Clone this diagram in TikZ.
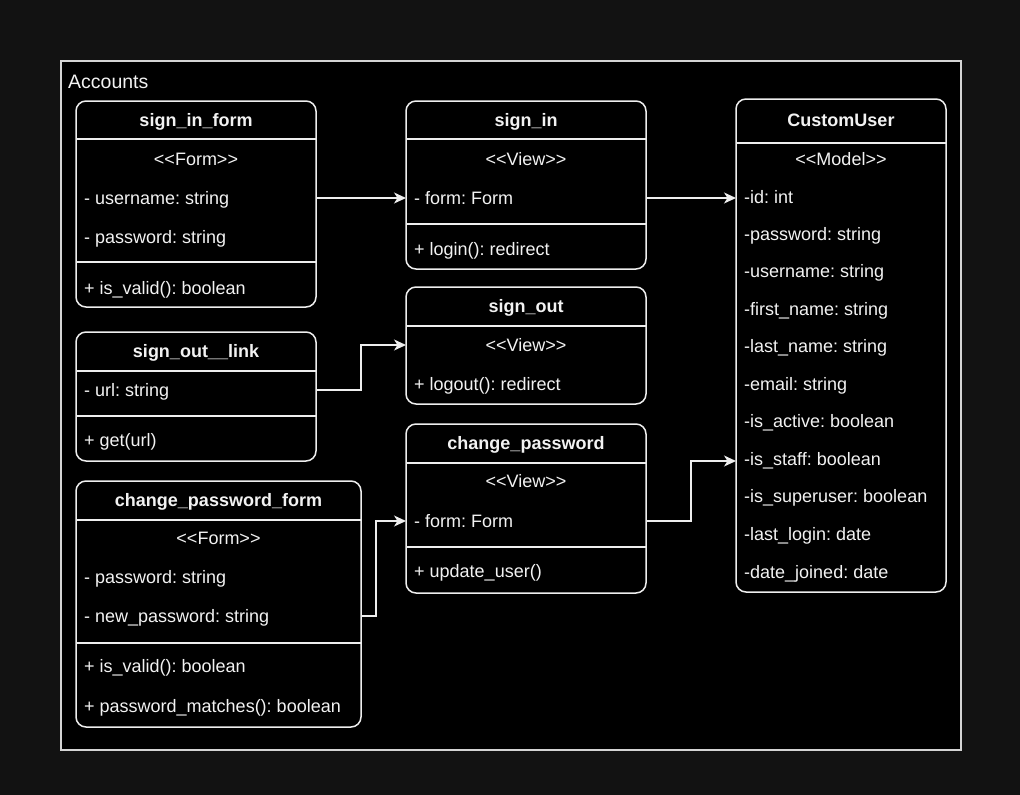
\documentclass[tikz,border=0pt]{standalone}
\usepackage{fontspec}
\setmainfont{Liberation Sans}
\usetikzlibrary{arrows.meta}
\definecolor{pagebg}{HTML}{121212}
\definecolor{edgecol}{HTML}{EEEEEE}
\definecolor{framecol}{HTML}{D4D4D4}
\definecolor{txtcol}{HTML}{F2F2F2}
\newcommand{\ltlt}{<\kern0pt<}
\newcommand{\gtgt}{>\kern0pt>}
\frenchspacing
\begin{document}
\begin{tikzpicture}[x=1pt,y=-1pt,
  umlbox/.style={draw=edgecol, line width=1.5pt, rounded corners=10pt, anchor=north west,
    inner sep=0pt, outer sep=0pt, fill=black},
  sepline/.style={draw=edgecol, line width=1.5pt},
  ttl/.style={font=\fontsize{18}{21}\selectfont\bfseries\frenchspacing, text=txtcol, inner sep=0pt,
    text height=12.9pt, text depth=0pt},
  attr/.style={font=\fontsize{18}{21}\selectfont\frenchspacing, text=txtcol, anchor=west, inner sep=0pt,
    text height=12.9pt, text depth=0pt},
  stereo/.style={attr, anchor=center},
  conn/.style={draw=edgecol, line width=1.5pt, -{Stealth[length=12pt,width=11pt,inset=3.5pt]}}
]
\useasboundingbox (0,0) rectangle (1020,795);
\fill[pagebg] (0,0) rectangle (1020,795);

% container
\node[draw=framecol, line width=1.5pt, fill=black, anchor=north west, inner sep=0pt, outer sep=0pt,
  minimum width=900pt, minimum height=689pt] (accounts) at (61,61) {};
\node[font=\fontsize{19.5}{22}\selectfont, text=txtcol, anchor=west, inner sep=0pt,
  text height=14pt, text depth=0pt] (accounts-t) at (68,81) {Accounts};

% sign_in_form
\node[umlbox, minimum width=240pt, minimum height=206pt] (sif) at (76,101) {};
\draw[sepline] (sif.west |- 0,139) -- (sif.east |- 0,139);
\draw[sepline] (sif.west |- 0,262) -- (sif.east |- 0,262);
\node[ttl] (sif-t) at (196,120) {sign\_in\_form};
\node[stereo] (sif-st) at (196,159) {\ltlt Form\gtgt};
\node[attr] (sif-user) at (84,198) {- username: string};
\node[attr] (sif-pw) at (84,237) {- password: string};
\node[attr] (sif-valid) at (84,288) {+ is\_valid(): boolean};

% sign_in
\node[umlbox, minimum width=240pt, minimum height=168pt] (si) at (406,101) {};
\draw[sepline] (si.west |- 0,139) -- (si.east |- 0,139);
\draw[sepline] (si.west |- 0,224) -- (si.east |- 0,224);
\node[ttl] (si-t) at (526,120) {sign\_in};
\node[stereo] (si-st) at (526,159) {\ltlt View\gtgt};
\node[attr] (si-form) at (414,198) {- form: Form};
\node[attr] (si-login) at (414,249) {+ login(): redirect};

% CustomUser
\node[umlbox, minimum width=210pt, minimum height=493pt] (cu) at (736,99) {};
\draw[sepline] (cu.west |- 0,143) -- (cu.east |- 0,143);
\node[ttl] (cu-t) at (841,120) {CustomUser};
\node[stereo] (cu-st) at (841,159) {\ltlt Model\gtgt};
\node[attr] (cu-id) at (744,197) {-id: int};
\node[attr] (cu-pw) at (744,234) {-password: string};
\node[attr] (cu-user) at (744,271) {-username: string};
\node[attr] (cu-first) at (744,309) {-first\_name: string};
\node[attr] (cu-last) at (744,346) {-last\_name: string};
\node[attr] (cu-email) at (744,384) {-email: string};
\node[attr] (cu-active) at (744,421) {-is\_active: boolean};
\node[attr] (cu-staff) at (744,459) {-is\_staff: boolean};
\node[attr] (cu-super) at (744,496) {-is\_superuser: boolean};
\node[attr] (cu-login) at (744,534) {-last\_login: date};
\node[attr] (cu-joined) at (744,572) {-date\_joined: date};

% sign_out__link
\node[umlbox, minimum width=240pt, minimum height=129pt] (sol) at (76,332) {};
\draw[sepline] (sol.west |- 0,371) -- (sol.east |- 0,371);
\draw[sepline] (sol.west |- 0,416) -- (sol.east |- 0,416);
\node[ttl] (sol-t) at (196,351) {sign\_out\_\_link};
\node[attr] (sol-url) at (84,390) {- url: string};
\node[attr] (sol-get) at (84,440) {+ get(url)};

% sign_out
\node[umlbox, minimum width=240pt, minimum height=117pt] (so) at (406,287) {};
\draw[sepline] (so.west |- 0,326) -- (so.east |- 0,326);
\node[ttl] (so-t) at (526,306) {sign\_out};
\node[stereo] (so-st) at (526,345) {\ltlt View\gtgt};
\node[attr] (so-logout) at (414,384) {+ logout(): redirect};

% change_password
\node[umlbox, minimum width=240pt, minimum height=169pt] (cp) at (406,424) {};
\draw[sepline] (cp.west |- 0,463) -- (cp.east |- 0,463);
\draw[sepline] (cp.west |- 0,547) -- (cp.east |- 0,547);
\node[ttl] (cp-t) at (526,443) {change\_password};
\node[stereo] (cp-st) at (526,481) {\ltlt View\gtgt};
\node[attr] (cp-form) at (414,521) {- form: Form};
\node[attr] (cp-update) at (414,571) {+ update\_user()};

% change_password_form
\node[umlbox, minimum width=285pt, minimum height=246pt] (cpf) at (76,481) {};
\draw[sepline] (cpf.west |- 0,520) -- (cpf.east |- 0,520);
\draw[sepline] (cpf.west |- 0,643) -- (cpf.east |- 0,643);
\node[ttl] (cpf-t) at (218.5,500) {change\_password\_form};
\node[stereo] (cpf-st) at (218.5,538) {\ltlt Form\gtgt};
\node[attr] (cpf-pw) at (84,577) {- password: string};
\node[attr] (cpf-newpw) at (84,616) {- new\_password: string};
\node[attr] (cpf-valid) at (84,666) {+ is\_valid(): boolean};
\node[attr] (cpf-match) at (84,706) {+ password\_matches(): boolean};

% connectors
\draw[conn] (sif.east |- sif-user) -- (si.west |- sif-user);
\draw[conn] (si.east |- si-form) -- (cu.west |- si-form);
\draw[conn] (sol.east |- sol-url) -- ++(45,0) |- (so.west |- so-st);
\draw[conn] (cpf.east |- cpf-newpw) -- ++(15,0) |- (cp.west |- cp-form);
\draw[conn] (cp.east |- cp-form) -- ++(45,0) |- (cu.west |- 0,461);
\end{tikzpicture}
\end{document}
